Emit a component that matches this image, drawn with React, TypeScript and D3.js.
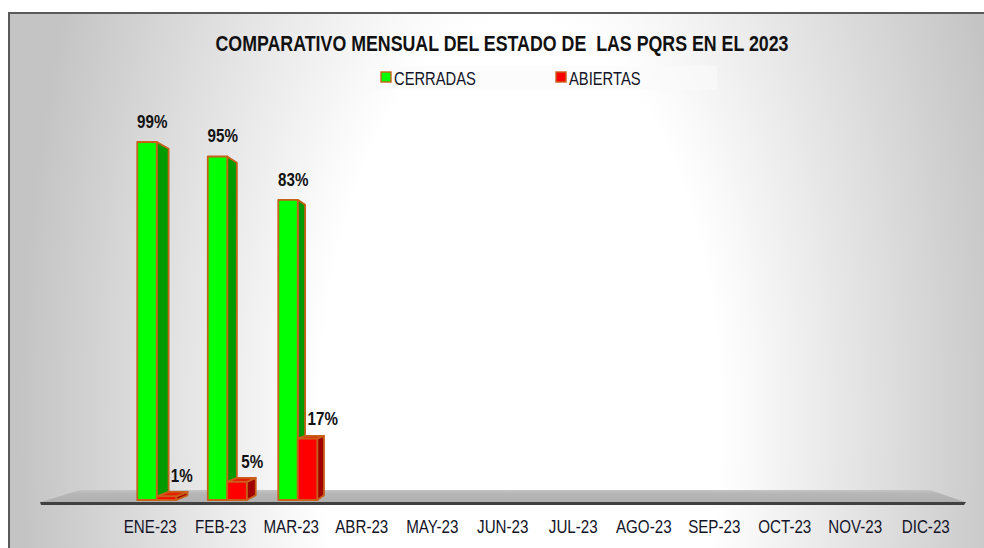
import React from "react";
import * as d3 from "d3";

const months = ["ENE-23", "FEB-23", "MAR-23", "ABR-23", "MAY-23", "JUN-23", "JUL-23", "AGO-23", "SEP-23", "OCT-23", "NOV-23", "DIC-23"];
const cerradas = [99, 95, 83];
const abiertas = [1, 5, 17];
const seriesNames = ["CERRADAS", "ABIERTAS"];
const title = "COMPARATIVO MENSUAL DEL ESTADO DE  LAS PQRS EN EL 2023";

const W = 984;
const H = 548;
const VP: [number, number] = [528, 353];
const T_BAR = 0.032;
const T_FLOOR = 0.08;
const FONT = "'Liberation Sans', Arial, sans-serif";
const NARROW_SCALE = 0.82;
const OUTLINE = "#c8601a";

const colors = [
  { front: "#00ff00", side: "#009a00", top: "#33dd33" },
  { front: "#ff0000", side: "#a00000", top: "#e52000" },
];

function back(p: [number, number], t: number): [number, number] {
  return [p[0] + t * (VP[0] - p[0]), p[1] + t * (VP[1] - p[1])];
}
const pts = (arr: [number, number][]) => arr.map((p) => p.join(",")).join(" ");

function NText(props: { x: number; y: number; size: number; bold?: boolean; anchor?: string; fill?: string; children: any }) {
  const { x, y, size, bold, anchor, fill, children } = props;
  return (
    <text
      transform={`translate(${x},${y}) scale(${NARROW_SCALE},1)`}
      textAnchor={anchor || "start"}
      fontFamily={FONT}
      fontWeight={bold ? "bold" : "normal"}
      fontSize={size}
      fill={fill || "#111"}
      style={{ whiteSpace: "pre" }}
    >
      {children}
    </text>
  );
}

export default function App() {
  const x = d3.scaleBand<string>().domain(months).range([115, 961]).padding(0);
  const y = d3.scaleLinear().domain([0, 100]).range([500, 138.4]);
  const barW = 19.5;
  const floorY = 502;
  const floorL = 41;
  const floorR = 965;

  const bars: any[] = [];
  [cerradas, abiertas].forEach((vals, si) => {
    vals.forEach((v, i) => {
      const c = (x(months[i]) as number) + x.bandwidth() / 2;
      const x0 = c - 13 + si * barW;
      const x1 = x0 + barW;
      const yT = y(v);
      const yB = y(0);
      bars.push({ si, v, x0, x1, yT, yB });
    });
  });

  const fl: [number, number] = [floorL, floorY];
  const fr: [number, number] = [floorR, floorY];
  const bl = back(fl, T_FLOOR);
  const br = back(fr, T_FLOOR);

  return (
    <svg width={W} height={H} style={{ position: "absolute", left: 0, top: 0, display: "block" }} xmlns="http://www.w3.org/2000/svg">
      <defs>
        <radialGradient id="bg" gradientUnits="userSpaceOnUse" cx={0} cy={0} r={1} gradientTransform="translate(520,420) scale(500,1000)">
          <stop offset="0" stopColor="#ffffff" />
          <stop offset="0.4" stopColor="#ffffff" />
          <stop offset="1" stopColor="#c4c4c4" />
        </radialGradient>
        <linearGradient id="floorG" x1="0" y1="0" x2="0" y2="1">
          <stop offset="0" stopColor="#c4c4c4" />
          <stop offset="0.3" stopColor="#b6b6b6" />
          <stop offset="1" stopColor="#b0b0b0" />
        </linearGradient>
      </defs>
      <rect x={0} y={0} width={W} height={H} fill="#ffffff" />
      <rect x={9} y={13} width={1000} height={600} fill="url(#bg)" stroke="#5a5a5a" strokeWidth={2} />

      <NText x={502} y={51} size={21.7} bold anchor="middle">
        {title}
      </NText>

      <rect x={368} y={66} width={349} height={24} fill="#fafafa" opacity={0.6} />
      {seriesNames.map((n, i) => {
        const lx = i === 0 ? 381 : 556;
        return (
          <g key={n}>
            <rect x={lx} y={72} width={10} height={10} fill={colors[i].front} stroke={OUTLINE} strokeWidth={1.4} />
            <NText x={lx + 13} y={85} size={18} fill="#141428">
              {n}
            </NText>
          </g>
        );
      })}

      <polygon points={pts([fl, fr, br, bl])} fill="url(#floorG)" />
      <polygon points={pts([[floorL - 1, floorY], [floorR + 1, floorY], [floorR - 1, floorY + 3], [floorL, floorY + 3]])} fill="#404040" />

      {bars.map((b, k) => {
        const col = colors[b.si];
        const ftl: [number, number] = [b.x0, b.yT];
        const ftr: [number, number] = [b.x1, b.yT];
        const fbr: [number, number] = [b.x1, b.yB];
        const fbl: [number, number] = [b.x0, b.yB];
        const btl = back(ftl, T_BAR);
        const btr = back(ftr, T_BAR);
        const bbr = back(fbr, T_BAR);
        const bbl = back(fbl, T_BAR);
        const showTop = b.yT > VP[1];
        const rightSide = b.x1 < VP[0];
        const side = rightSide ? [ftr, btr, bbr, fbr] : [ftl, btl, bbl, fbl];
        return (
          <g key={k} stroke={OUTLINE} strokeWidth={1.8} strokeLinejoin="round">
            <polygon points={pts(side as [number, number][])} fill={col.side} />
            {showTop && <polygon points={pts([ftl, ftr, btr, btl])} fill={col.top} />}
            <polygon points={pts([ftl, ftr, fbr, fbl])} fill={col.front} />
          </g>
        );
      })}

      {bars.map((b, k) => (
        <NText key={"l" + k} x={b.x0 + (b.si === 0 ? 15 : 25)} y={b.yT - 14} size={18.5} bold anchor="middle">
          {b.v + "%"}
        </NText>
      ))}

      {months.map((m) => (
        <NText key={m} x={(x(m) as number) + x.bandwidth() / 2} y={533} size={18.5} anchor="middle" fill="#141428">
          {m}
        </NText>
      ))}
    </svg>
  );
}
